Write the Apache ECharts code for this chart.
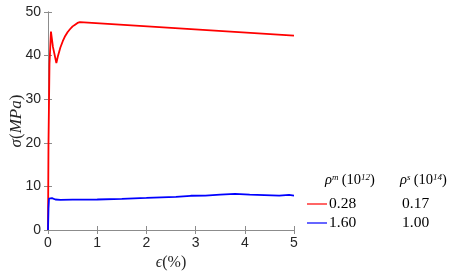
<!DOCTYPE html>
<html><head><meta charset="utf-8">
<script src="https://cdn.jsdelivr.net/npm/echarts@6/dist/echarts.min.js"></script>
<style>html,body{margin:0;padding:0;background:#fff}#c{width:457px;height:273px}</style>
</head><body><div id="c"></div>
<script>
const xTicks = [0, 1, 2, 3, 4, 5];
const yTicks = [0, 10, 20, 30, 40, 50];
const seriesNames = ['0.28', '1.60'];
const rhoS = ['0.17', '1.00'];
const redX = [0, 0.01, 0.03, 0.06, 0.1, 0.17, 0.2, 0.25, 0.3, 0.35, 0.4, 0.45, 0.5, 0.55, 0.6, 0.65, 5];
const redY = [0, 20, 38, 45.5, 42, 38.3, 39.8, 41.8, 43.3, 44.5, 45.4, 46.1, 46.7, 47.1, 47.5, 47.7, 44.6];
const blueX = [0, 0.01, 0.02, 0.08, 0.15, 0.25, 0.5, 1, 1.5, 2, 2.3, 2.6, 2.9, 3.2, 3.5, 3.8, 4.1, 4.4, 4.7, 4.9, 5];
const blueY = [0, 5, 7.2, 7.3, 7.0, 6.9, 6.95, 7.0, 7.15, 7.35, 7.5, 7.6, 7.85, 7.9, 8.1, 8.3, 8.1, 8.0, 7.9, 8.05, 7.9];

const zip = (a, b) => a.map((v, i) => [v, b[i]]);
const axisCol = '#8c8c8c';
const labCol = '#262626';
const sans = 'Liberation Sans';
const serif = 'Liberation Serif';

const chart = echarts.init(document.getElementById('c'));
const common = {
  axisLine: { show: true, lineStyle: { color: axisCol, width: 1 } },
  axisTick: { show: true, inside: true, length: 4, lineStyle: { color: axisCol } },
  splitLine: { show: false }
};
const hdrRich = {
  i: { fontFamily: serif, fontStyle: 'italic', fontSize: 14.5, fill: '#000', verticalAlign: 'bottom' },
  n: { fontFamily: serif, fontSize: 14.5, fill: '#000', verticalAlign: 'bottom' },
  s: { fontFamily: serif, fontStyle: 'italic', fontSize: 9, fill: '#000', verticalAlign: 'top' }
};
chart.setOption({
  animation: false,
  grid: { left: 48, top: 12, right: 163, bottom: 43, outerBoundsMode: 'none', containLabel: false },
  xAxis: [
    Object.assign({ type: 'value', min: xTicks[0], max: xTicks[xTicks.length - 1], interval: 1, position: 'bottom',
      axisLabel: { color: labCol, fontFamily: sans, fontSize: 14, margin: 6 },
      name: '{e|ϵ}{n|(%)}', nameLocation: 'middle', nameGap: 25, nameMoveOverlap: false,
      nameTextStyle: { rich: { e: { fontFamily: serif, fontStyle: 'italic', fontSize: 16, color: labCol }, n: { fontFamily: serif, fontSize: 16, color: labCol } } } }, common),
    Object.assign({ type: 'value', min: 0, max: 5, interval: 1, position: 'top', axisLabel: { show: false } }, common)
  ],
  yAxis: [
    Object.assign({ type: 'value', min: yTicks[0], max: yTicks[yTicks.length - 1], interval: 10, position: 'left',
      axisLabel: { color: labCol, fontFamily: sans, fontSize: 14, margin: 7 },
      name: '{i|σ}{n|(}{i|MPa}{n|)}', nameLocation: 'middle', nameGap: 23, nameMoveOverlap: false,
      nameTextStyle: { rich: { i: { fontFamily: serif, fontStyle: 'italic', fontSize: 17, color: labCol }, n: { fontFamily: serif, fontSize: 17, color: labCol } } } }, common),
    Object.assign({ type: 'value', min: 0, max: 50, interval: 10, position: 'right', axisLabel: { show: false } }, common)
  ],
  legend: {
    orient: 'vertical', left: 302, top: 191, itemGap: 3, itemWidth: 20, itemHeight: 10,
    selectedMode: false,
    data: seriesNames.map((n) => ({ name: n, icon: 'path://M0,4.4H20V5.6H0Z' })),
    formatter: function (name) { const i = seriesNames.indexOf(name); return '{a|' + name + '}{b|' + rhoS[i] + '}'; },
    textStyle: { padding: [0, 0, 0, -3], rich: { a: { fontFamily: serif, fontSize: 15.5, lineHeight: 15, color: '#000', width: 73 }, b: { fontFamily: serif, fontSize: 15.5, lineHeight: 15, color: '#000' } } }
  },
  graphic: [
    { type: 'text', left: 325, top: 173, style: { text: '{i|ρ}{s|m} {n|(10}{s|12}{n|)}', rich: hdrRich } },
    { type: 'text', left: 400, top: 173, style: { text: '{i|ρ}{s|s} {n|(10}{s|14}{n|)}', rich: hdrRich } }
  ],
  series: [
    { name: seriesNames[0], type: 'line', data: zip(redX, redY), showSymbol: false, lineStyle: { color: '#ff0000', width: 1.8 }, itemStyle: { color: '#ff0000' } },
    { name: seriesNames[1], type: 'line', data: zip(blueX, blueY), showSymbol: false, lineStyle: { color: '#0000ff', width: 1.8 }, itemStyle: { color: '#0000ff' } }
  ]
});
</script></body></html>
